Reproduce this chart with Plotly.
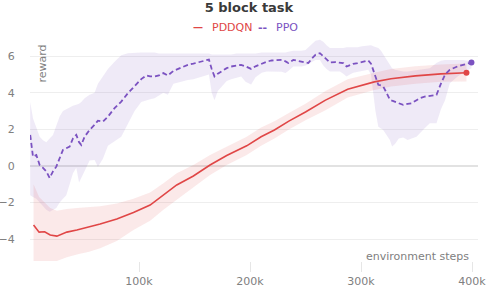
import plotly.graph_objects as go

# ---------------- data ----------------
pddqn_steps = [5, 10, 15, 20, 26, 35, 44, 55, 65, 80, 95, 110, 122, 134, 149, 164, 179,
               197, 210, 222, 235, 250, 268, 288, 312, 327, 349, 372, 395]
pddqn_mean = [-3.23, -3.62, -3.6, -3.78, -3.84, -3.62, -3.5, -3.35, -3.18, -2.9, -2.55, -2.14,
              -1.6, -1.04, -0.55, 0.05, 0.57, 1.1, 1.6, 1.97, 2.45, 2.95, 3.6, 4.2, 4.6, 4.77,
              4.93, 5.04, 5.1]
pddqn_upper = [-1.0, -1.7, -2.0, -2.3, -2.45, -2.35, -2.3, -2.25, -2.2, -2.05, -1.8, -1.45,
               -0.95, -0.4, 0.05, 0.6, 1.05, 1.6, 2.1, 2.45, 2.9, 3.4, 4.1, 4.75, 5.1, 5.3,
               5.45, 5.55, 5.6]
pddqn_lower = [-5.4, -5.35, -5.3, -5.25, -5.2, -5.0, -4.85, -4.7, -4.5, -4.1, -3.5, -3.0,
               -2.4, -1.85, -1.2, -0.5, 0.05, 0.6, 1.1, 1.5, 2.0, 2.5, 3.05, 3.75, 4.15, 4.35,
               4.5, 4.6, 4.62]

ppo_steps = [2, 4.5, 7.5, 10.5, 13.5, 16.5, 19.5, 22.5, 25.5, 28.5, 31.5, 34.5, 37.5, 40.5,
             43.5, 46, 48, 51, 55.5, 60, 63, 67.5, 72, 78, 84, 90, 96, 102, 106.5, 110, 114,
             118, 122, 126, 131, 137, 144, 149, 153, 158, 163, 165.5, 168, 171, 174, 179,
             183, 188, 192, 196, 201, 205, 210.5, 215, 219.5, 224, 228.5, 232, 234.5, 239,
             243, 246.5, 250, 252.5, 256, 259, 263, 266, 269, 272, 277, 281, 284, 287, 290,
             293, 297, 301, 306.5, 309, 311, 313, 315.6, 318, 320, 323, 326, 328, 330.6, 334,
             338, 342, 345.6, 350, 353, 358, 362, 368, 372, 375.7, 380, 383, 387, 392, 396,
             399.5]
ppo_mean = [1.7, 0.5, 0.6, 0.05, -0.1, -0.3, -0.66, -0.3, -0.04, 0.42, 0.88, 0.97, 1.06, 1.5,
            1.7, 1.3, 1.15, 1.6, 1.97, 2.25, 2.48, 2.43, 2.7, 3.16, 3.52, 3.98, 4.35, 4.75,
            4.95, 4.9, 4.9, 4.95, 5.08, 4.95, 5.2, 5.35, 5.53, 5.6, 5.66, 5.75, 5.82, 5.3,
            4.9, 5.05, 5.17, 5.35, 5.44, 5.5, 5.53, 5.45, 5.31, 5.45, 5.59, 5.7, 5.77, 5.8,
            5.8, 5.72, 5.63, 5.8, 5.75, 5.71, 5.68, 5.63, 5.9, 6.08, 6.17, 6.0, 5.85, 5.66,
            5.68, 5.66, 5.63, 5.44, 5.52, 5.59, 5.63, 5.7, 5.77, 5.6, 5.26, 4.8, 4.44, 4.4,
            4.35, 4.0, 3.62, 3.57, 3.52, 3.45, 3.34, 3.4, 3.43, 3.6, 3.71, 3.8, 3.84, 3.89,
            4.5, 5.0, 5.26, 5.35, 5.45, 5.53, 5.6, 5.66]
ppo_upper = [3.5, 2.6, 2.1, 1.6, 1.4, 1.3, 1.5, 1.7, 2.2, 2.7, 3.0, 3.1, 3.2, 3.3, 3.35, 3.4,
             3.5, 3.7, 3.9, 4.0, 4.5, 4.9, 5.3, 5.7, 6.05, 6.17, 6.2, 6.2, 6.2, 6.2, 6.2,
             6.15, 6.15, 6.15, 6.15, 6.15, 6.15, 6.15, 6.15, 6.15, 6.15, 6.1, 6.1, 6.1, 6.1,
             6.1, 6.1, 6.15, 6.15, 6.15, 6.15, 6.15, 6.2, 6.2, 6.2, 6.2, 6.2, 6.2, 6.25, 6.3,
             6.3, 6.3, 6.35, 6.5, 6.7, 6.85, 6.9, 6.8, 6.6, 6.45, 6.45, 6.45, 6.45, 6.5, 6.5,
             6.5, 6.5, 6.55, 6.6, 6.6, 6.55, 6.5, 6.45, 6.3, 6.1, 5.8, 5.5, 5.35, 5.26, 5.2,
             5.17, 5.17, 5.2, 5.26, 5.26, 5.3, 5.35, 5.63, 5.75, 5.8, 5.8, 5.8, 5.8, 5.8,
             5.75, 5.72]
ppo_lower = [-1.6, -1.7, -1.8, -2.0, -2.2, -2.4, -2.5, -2.4, -2.3, -2.0, -1.8, -1.6, -1.0,
             -0.4, -0.1, -0.9, -0.6, -0.27, 0.3, 0.33, -0.05, 0.4, 1.1, 1.35, 1.6, 2.34, 3.0,
             3.5, 3.6, 3.65, 3.7, 3.85, 4.0, 3.9, 4.5, 4.6, 4.7, 4.75, 4.8, 4.9, 5.0, 4.0,
             3.6, 4.1, 4.3, 4.65, 4.75, 4.85, 4.9, 4.6, 4.45, 4.85, 5.1, 5.17, 5.17, 5.17,
             5.15, 5.08, 5.2, 5.44, 5.44, 5.44, 5.5, 5.55, 5.7, 5.8, 5.8, 5.5, 5.3, 5.17,
             5.17, 5.17, 5.05, 4.9, 5.0, 5.1, 5.17, 5.2, 5.26, 5.0, 4.16, 3.0, 2.15, 2.05,
             1.97, 1.7, 1.42, 1.06, 1.2, 1.5, 1.55, 1.42, 1.5, 1.6, 1.8, 2.1, 2.34, 2.34,
             3.1, 3.6, 4.53, 4.7, 4.9, 5.1, 5.25, 5.35]

series_names = ["PDDQN", "PPO"]
x_ticks = [100000, 200000, 300000, 400000]
x_tick_labels = ["100k", "200k", "300k", "400k"]
y_ticks = [-4, -2, 0, 2, 4, 6]

RED = "#e04646"
PURPLE = "#7b52c1"


def k(vals):
    return [v * 1000 for v in vals]


fig = go.Figure()

# bands
fig.add_trace(go.Scatter(
    x=k(ppo_steps) + k(ppo_steps)[::-1], y=ppo_upper + ppo_lower[::-1],
    fill="toself", fillcolor="rgba(123,82,193,0.12)", line=dict(width=0),
    hoverinfo="skip", showlegend=False))
fig.add_trace(go.Scatter(
    x=k(pddqn_steps) + k(pddqn_steps)[::-1], y=pddqn_upper + pddqn_lower[::-1],
    fill="toself", fillcolor="rgba(224,70,70,0.12)", line=dict(width=0),
    hoverinfo="skip", showlegend=False))

# lines
fig.add_trace(go.Scatter(
    x=k(pddqn_steps), y=pddqn_mean, mode="lines", name=series_names[0],
    line=dict(color=RED, width=1.6), showlegend=False))
fig.add_trace(go.Scatter(
    x=k(ppo_steps), y=ppo_mean, mode="lines", name=series_names[1],
    line=dict(color=PURPLE, width=1.8, dash="5px,3px"), showlegend=False))

# end markers
fig.add_trace(go.Scatter(
    x=k(pddqn_steps[-1:]), y=pddqn_mean[-1:], mode="markers",
    marker=dict(color=RED, size=6), showlegend=False, hoverinfo="skip"))
fig.add_trace(go.Scatter(
    x=k(ppo_steps[-1:]), y=ppo_mean[-1:], mode="markers",
    marker=dict(color=PURPLE, size=6), showlegend=False, hoverinfo="skip"))

legend_y = 1.045
annotations = [
    dict(text="reward", xref="paper", yref="paper", x=0.027, y=0.886,
         xanchor="center", yanchor="middle", textangle=-90, showarrow=False,
         font=dict(size=11, color="#808080")),
    dict(text="environment steps", xref="paper", yref="paper", x=0.985, y=0.018,
         xanchor="right", yanchor="middle", showarrow=False,
         font=dict(size=11, color="#808080")),
    # custom legend
    dict(text="<b>—</b>", xref="paper", yref="paper", x=0.374, y=legend_y,
         xanchor="center", yanchor="middle", showarrow=False,
         font=dict(size=10, color=RED)),
    dict(text=series_names[0], xref="paper", yref="paper", x=0.401, y=legend_y,
         xanchor="left", yanchor="middle", showarrow=False,
         font=dict(size=11, color=RED)),
    dict(text="<b>--</b>", xref="paper", yref="paper", x=0.518, y=legend_y,
         xanchor="center", yanchor="middle", showarrow=False,
         font=dict(size=11, color=PURPLE)),
    dict(text=series_names[1], xref="paper", yref="paper", x=0.545, y=legend_y,
         xanchor="left", yanchor="middle", showarrow=False,
         font=dict(size=11, color=PURPLE)),
]

fig.update_layout(
    width=498, height=297,
    margin=dict(l=30, r=20, t=38, b=36),
    paper_bgcolor="white", plot_bgcolor="white",
    font=dict(family="DejaVu Sans", size=11, color="#808080"),
    title=dict(text="<b>5 block task</b>", x=0.5, xanchor="center",
               y=0.975, yanchor="middle",
               font=dict(size=13, color="#3a3a3a", family="DejaVu Sans")),
    showlegend=False,
    xaxis=dict(range=[1800, 405400], tickvals=x_ticks, ticktext=x_tick_labels,
               showgrid=False, zeroline=False, showline=False, automargin=False,
               ticks="outside", ticklen=10, tickcolor="#e6e6e6", tickwidth=1,
               tickfont=dict(size=11, color="#808080")),
    yaxis=dict(range=[-5.2, 7.0], tickvals=y_ticks, showgrid=True, automargin=False,
               gridcolor="#eeeeee", gridwidth=1, zeroline=True,
               zerolinecolor="#e2e2e2", zerolinewidth=1.5, showline=False,
               ticks="outside", ticklen=12, tickcolor="rgba(0,0,0,0)",
               tickfont=dict(size=11, color="#808080")),
    annotations=annotations,
)

fig.write_html("out.html", config={"displayModeBar": False},
               post_script="document.body.style.margin='0';")
